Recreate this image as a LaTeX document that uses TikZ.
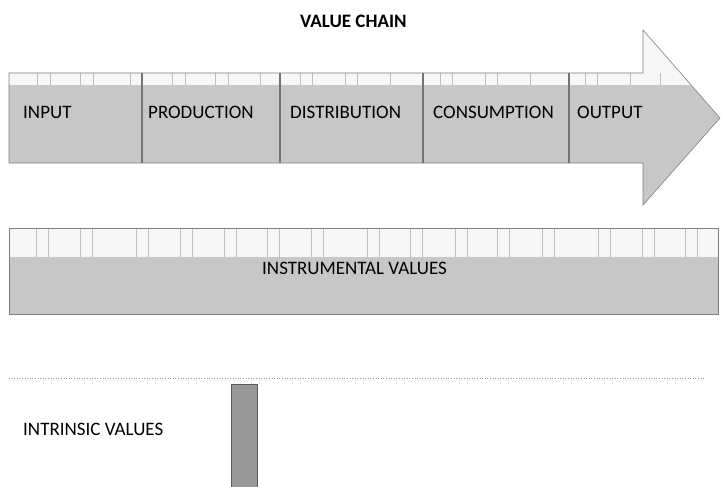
\documentclass[tikz,border=0pt]{standalone}
\usepackage{fontspec}
\setmainfont{Carlito}
\usetikzlibrary{positioning}

\begin{document}
\begin{tikzpicture}[
  x=1pt, y=-1pt,
  shade/.style={fill=black!22, draw=none},
  pale/.style={fill=black!3, draw=none},
  frame/.style={draw=black!50, line width=0.6pt},
  divider/.style={draw=black!55, line width=1.6pt},
  tick/.style={draw=black!25, line width=0.5pt},
  stage/.style={font=\fontsize{19}{21}\selectfont, anchor=base west, inner sep=0pt},
  heading/.style={font=\bfseries\fontsize{19}{21}\selectfont, anchor=base west, inner sep=0pt}
]
  \useasboundingbox (0,0) rectangle (721,487);

  % the chain arrow
  \coordinate (tl) at (9,73);
  \coordinate (hs) at (643,73);
  \coordinate (ht) at (643,30);
  \coordinate (tip) at (720,118);
  \coordinate (hb) at (643,205);
  \coordinate (bs) at (643,163);
  \coordinate (bl) at (9,163);
  \begin{scope}
    \clip (tl) -- (hs) -- (ht) -- (tip) -- (hb) -- (bs) -- (bl) -- cycle;
    \fill[shade] (0,0) rectangle (721,487);
    \fill[pale] (0,0) rectangle (721,85);
    \foreach \x in {37,50,80,93,130,172,185,215,228,260,300,312,345,357,390,440,452,485,497,530,585,597,630,660} {
      \draw[tick] (\x,73) -- (\x,85);
    }
  \end{scope}
  \draw[frame] (tl) -- (hs) -- (ht) -- (tip) -- (hb) -- (bs) -- (bl) -- cycle;
  \foreach \x in {142,280,423,569} {
    \draw[divider] (\x,73) -- (\x,163);
  }
  \node[heading] (title) at (300,28) {VALUE CHAIN};
  \node[stage] (input) at (23,118) {INPUT};
  \node[stage] (production) at (148,118) {PRODUCTION};
  \node[stage] (distribution) at (290,118) {DISTRIBUTION};
  \node[stage] (consumption) at (433,118) {CONSUMPTION};
  \node[stage] (output) at (577,118) {OUTPUT};

  % instrumental band
  \fill[shade] (9,257) rectangle (718,314);
  \fill[pale] (9,228) rectangle (718,257);
  \foreach \x in {36,80,136,180,224,267,311,367,410,455,497,542,598,642,685} {
    \draw[tick] (\x,228) -- (\x,257);
    \draw[tick] ({\x+12},228) -- ({\x+12},257);
  }
  \draw[frame] (9,228) rectangle (718,314);
  \node[stage] (instrumental) at (262,274) {INSTRUMENTAL VALUES};

  % intrinsic part
  \draw[black!40, line width=0.6pt, dotted] (9,378) -- (705,378);
  \node[stage] (intrinsic) at (23,435) {INTRINSIC VALUES};
  \draw[fill=black!40, draw=black!65, line width=0.6pt] (231,384) rectangle (257,487);
\end{tikzpicture}
\end{document}
